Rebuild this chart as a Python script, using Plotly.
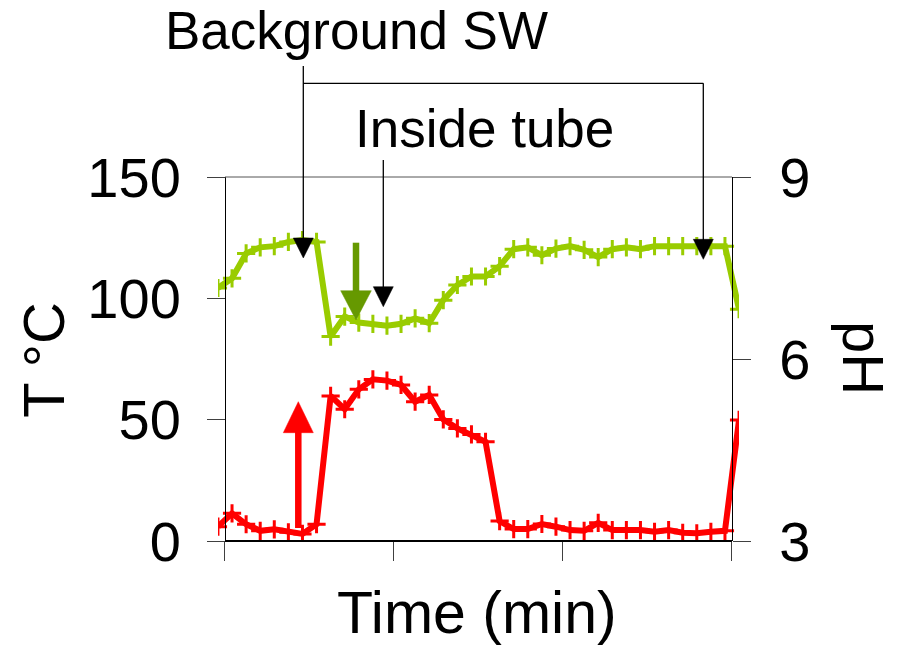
import plotly.graph_objects as go

# ---------------- data ----------------
# sample index (each sample centred in its category; ticks every 12 samples)
time_idx = [i + 0.5 for i in range(-1, 37)]
temp_c = [5.9, 11.4, 6.9, 4.2, 4.8, 3.6, 2.9, 6.9, 59.8, 54.3, 62.5, 66.6, 66.1,
          64.3, 57.4, 60.2, 50.1, 46.4, 43.9, 40.9, 8.2, 4.9, 4.9, 7.0, 5.9, 4.5,
          4.2, 7.5, 4.5, 4.5, 4.5, 3.8, 4.5, 3.4, 3.2, 3.8, 4.2, 49.9]
ph_vals = [7.17, 7.33, 7.74, 7.84, 7.86, 7.93, 7.96, 7.93, 6.37, 6.70, 6.60, 6.58,
           6.55, 6.58, 6.67, 6.59, 6.97, 7.22, 7.36, 7.36, 7.53, 7.81, 7.84, 7.71,
           7.82, 7.86, 7.80, 7.68, 7.81, 7.84, 7.81, 7.86, 7.86, 7.86, 7.86, 7.86,
           7.86, 6.82]
x_ticks = [0, 12, 24, 36]
t_ticks = [0, 50, 100, 150]
ph_ticks = [3, 6, 9]

W, H = 901, 648
FONT = "Liberation Sans, Arial, sans-serif"
RED = "#FF0000"
GREEN = "#99CC00"
DKGREEN = "#669900"
TICKC = "#404040"


def px(x):
    return x / W


def py(y):
    return 1 - y / H


# plot area (pixels)
X0, X1 = 225, 732
Y_TOP, Y_BOT = 177, 541
unit = (X1 - X0) / 36.0

fig = go.Figure()
fig.add_trace(go.Scatter(
    x=time_idx, y=temp_c, mode="lines+markers", yaxis="y",
    line=dict(color=RED, width=6),
    marker=dict(symbol="cross-thin", size=13, line=dict(color=RED, width=3)),
    hoverinfo="skip"))
fig.add_trace(go.Scatter(
    x=time_idx, y=ph_vals, mode="lines+markers", yaxis="y2",
    line=dict(color=GREEN, width=6),
    marker=dict(symbol="cross-thin", size=13, line=dict(color=GREEN, width=3)),
    hoverinfo="skip"))

dom_y = [py(Y_BOT), py(Y_TOP)]
fig.update_layout(
    width=W, height=H, autosize=False,
    margin=dict(l=0, r=0, t=0, b=0),
    paper_bgcolor="white", plot_bgcolor="white",
    showlegend=False,
    font=dict(family=FONT, color="black"),
    xaxis=dict(domain=[px(X0 - 0.5 * unit), px(X1 + 0.5 * unit)],
               range=[-0.5, 36.5], tickvals=x_ticks, ticks="outside",
               ticklen=19, tickcolor=TICKC, tickwidth=1,
               showticklabels=False, showgrid=False, zeroline=False,
               showline=False, anchor="y", automargin=False),
    yaxis=dict(domain=dom_y, range=[0, 150], tickvals=t_ticks,
               ticks="outside", ticklen=18, tickcolor=TICKC, tickwidth=1,
               tickfont=dict(size=56, family=FONT, color="black"),
               ticklabelstandoff=15,
               showline=True, linecolor="black", linewidth=1,
               showgrid=False, zeroline=False, anchor="free",
               position=px(X0), automargin=False),
    yaxis2=dict(domain=dom_y, range=[3, 9], tickvals=ph_ticks,
                overlaying="y", side="right", anchor="free", position=px(X1),
                ticks="outside", ticklen=18, tickcolor=TICKC, tickwidth=1,
                tickfont=dict(size=56, family=FONT, color="black"),
                ticklabelstandoff=17,
                showline=True, linecolor="black", linewidth=1,
                showgrid=False, zeroline=False, automargin=False),
    yaxis3=dict(domain=dom_y, range=[3, 9], tickvals=ph_ticks,
                overlaying="y", side="right", anchor="free", position=px(X1),
                ticks="inside", ticklen=19, tickcolor=TICKC, tickwidth=1,
                showticklabels=False, showline=False,
                showgrid=False, zeroline=False, automargin=False),
)

shapes = []
# top border and bottom (time) axis line
shapes.append(dict(type="line", xref="x", yref="paper", x0=0, x1=36,
                   y0=py(Y_TOP), y1=py(Y_TOP), line=dict(color="#555555", width=1)))
shapes.append(dict(type="line", xref="x", yref="paper", x0=0, x1=36,
                   y0=py(Y_BOT), y1=py(Y_BOT), line=dict(color="black", width=2)))


def tri(xc, ybase, ytip, half, color):
    path = (f"M {px(xc - half)},{py(ybase)} L {px(xc + half)},{py(ybase)} "
            f"L {px(xc)},{py(ytip)} Z")
    return dict(type="path", xref="paper", yref="paper", path=path,
                fillcolor=color, line=dict(color=color, width=0.5))


def seg(xa, ya, xb, yb, color, width):
    return dict(type="line", xref="paper", yref="paper", x0=px(xa), y0=py(ya),
                x1=px(xb), y1=py(yb), line=dict(color=color, width=width))


# "Background SW" bracket
BGL, BGR, BR_Y = 303.3, 703.3, 83.3
shapes.append(seg(BGL, 66, BGL, 240, "black", 1.3))
shapes.append(seg(BGL, BR_Y, BGR, BR_Y, "black", 1.3))
shapes.append(seg(BGR, BR_Y, BGR, 241, "black", 1.3))
shapes.append(tri(BGL, 238, 258, 10, "black"))
shapes.append(tri(BGR, 239.3, 259.3, 10, "black"))
# "Inside tube" arrow
IT = 383.3
shapes.append(seg(IT, 160, IT, 288, "black", 1.3))
shapes.append(tri(IT, 286.7, 306.7, 10, "black"))
# green (pH) arrow
GX = 356
shapes.append(seg(GX, 242.7, GX, 292, DKGREEN, 6.5))
shapes.append(tri(GX, 290.7, 320, 15.3, DKGREEN))
# red (temperature) arrow
RX = 298.3
shapes.append(seg(RX, 528, RX, 431, RED, 6.5))
shapes.append(tri(RX, 432.7, 401.7, 15, RED))

fig.update_layout(shapes=shapes)

ann = [
    dict(text="Background SW", x=px(356.5), y=py(31), size=53, angle=0),
    dict(text="Inside tube", x=px(484.5), y=py(128), size=53, angle=0),
    dict(text="Time (min)", x=px(477), y=py(613), size=59, angle=0),
    dict(text="T °C", x=px(42.7), y=py(360), size=58, angle=-90),
    dict(text="pH", x=px(864), y=py(358), size=58, angle=90),
]
for a in ann:
    fig.add_annotation(text=a["text"], x=a["x"], y=a["y"], xref="paper",
                       yref="paper", xanchor="center", yanchor="middle",
                       showarrow=False, textangle=a["angle"],
                       font=dict(size=a["size"], family=FONT, color="black"))

fig.write_html("out.html")
